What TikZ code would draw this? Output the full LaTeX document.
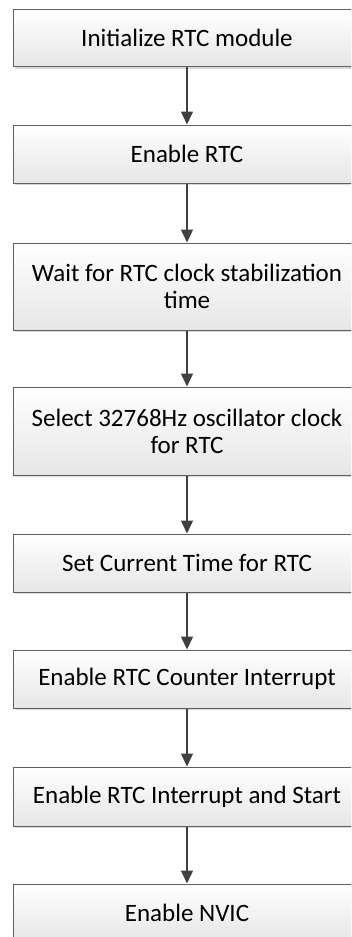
\documentclass[tikz,border=0pt]{standalone}
\usepackage{fontspec}
\setmainfont{Carlito}
\usetikzlibrary{arrows.meta,shadows}
\definecolor{boxborder}{HTML}{606060}
\definecolor{arrowcol}{HTML}{404040}
\definecolor{boxbottom}{HTML}{E6E6E6}
\begin{document}
\begin{tikzpicture}[x=1pt,y=-1pt,
  stepbox/.style={draw=boxborder, line width=1pt, rectangle,
    top color=white, bottom color=boxbottom,
    minimum width=348pt, inner sep=0pt, align=center,
    font=\fontsize{25}{27}\selectfont,
    drop shadow={shadow xshift=1.5pt, shadow yshift=-2pt, opacity=0.15, fill=black}},
  flow/.style={draw=arrowcol, line width=1.5pt, -{Triangle[width=12pt,length=13pt]}}]
\useasboundingbox (0,0) rectangle (351,937);
\clip (0,0) rectangle (351,937);
\node[stepbox, minimum height=57pt] (b1) at (187,38) {Initialize RTC module};
\node[stepbox, minimum height=58pt] (b2) at (187,154) {Enable RTC};
\node[stepbox, minimum height=87pt] (b3) at (187,286.5) {Wait for RTC clock stabilization\\time};
\node[stepbox, minimum height=88pt] (b4) at (187,431) {Select 32768Hz oscillator clock\\for RTC};
\node[stepbox, minimum height=58pt] (b5) at (187,563) {Set Current Time for RTC};
\node[stepbox, minimum height=58pt] (b6) at (187,679) {Enable RTC Counter Interrupt};
\node[stepbox, minimum height=59pt] (b7) at (187,796.5) {Enable RTC Interrupt and Start};
\node[stepbox, minimum height=58pt] (b8) at (187,913) {Enable NVIC};
\draw[flow] (b1.south) -- (b2.north);
\draw[flow] (b2.south) -- (b3.north);
\draw[flow] (b3.south) -- (b4.north);
\draw[flow] (b4.south) -- (b5.north);
\draw[flow] (b5.south) -- (b6.north);
\draw[flow] (b6.south) -- (b7.north);
\draw[flow] (b7.south) -- (b8.north);
\end{tikzpicture}
\end{document}
